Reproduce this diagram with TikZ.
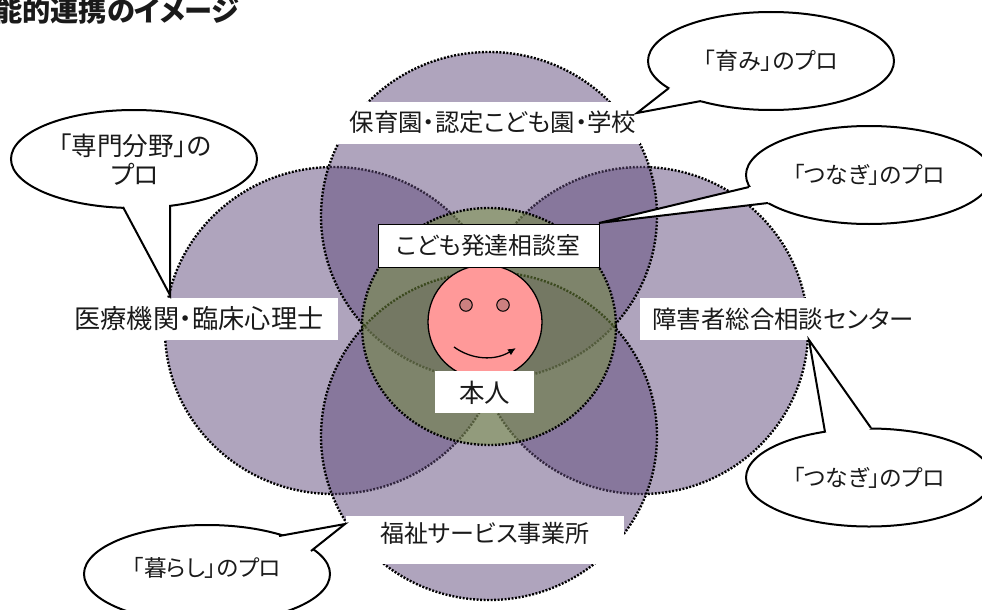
\documentclass[tikz,border=0pt]{standalone}
\usepackage{fontspec}
\setmainfont[RawFeature=+palt]{Noto Sans CJK JP}
\usetikzlibrary{shapes.geometric,arrows.meta,calc}
\definecolor{ringpurple}{HTML}{604A7B}
\definecolor{ringolive}{HTML}{76923C}
\definecolor{facepink}{HTML}{FF9999}
\definecolor{eyepink}{HTML}{CC8080}
\definecolor{inktext}{HTML}{1A1A1A}
\tikzset{
  ring/.style n args={2}{ellipse,inner sep=0pt,outer sep=0pt,minimum width=#1pt,minimum height=#2pt,
    fill=ringpurple,fill opacity=.5,draw=black,draw opacity=1,line width=2.4pt,dash pattern=on 1.9pt off 1.6pt},
  greenring/.style n args={2}{ring={#1}{#2},fill=ringolive},
  plate/.style n args={2}{inner sep=0pt,outer sep=0pt,minimum width=#1pt,minimum height=#2pt,fill=white},
  labeltext/.style={inner sep=0pt,font=\fontsize{#1pt}{29pt}\selectfont,text=inktext,align=center},
  labeltext/.default=24.4,
  calloutbody/.style={ellipse,inner sep=0pt,outer sep=0pt,minimum width=246pt,minimum height=98pt,fill=white,draw=black,line width=2pt},
  tailfill/.style={fill=white,draw=none},
  tailline/.style={draw=black,line width=2pt,line join=miter,fill=none},
}
\newcommand{\calloutshape}[5]{% name, center, base1, tip, base2
  \node[calloutbody] (#1) at #2 {};
  \coordinate (#1a) at #3; \coordinate (#1t) at #4; \coordinate (#1b) at #5;
  \fill[tailfill] (#1a) -- (#1t) -- (#1b) -- ($(#1a)!.5!(#1b)!.3!(#1)$) -- cycle;
  \draw[tailline] (#1a) -- (#1t) -- (#1b);
}
\begin{document}
\begin{tikzpicture}[x=1pt,y=-1pt]
\useasboundingbox (0,0) rectangle (982,610);
\clip (0,0) rectangle (982,610);
% title
\node[anchor=west,inner sep=0pt,font=\bfseries\fontsize{28.2pt}{30pt}\selectfont,text=inktext] (title) at (-6,10.5) {能的連携のイメージ};
% rings
\node[ring={337}{327}] (leftring) at (333.5,330.5) {};
\node[ring={333}{327}] (rightring) at (641.5,330.5) {};
\node[ring={336}{328}] (topring) at (489,216) {};
\node[ring={336}{328}] (bottomring) at (489,436) {};
\node[greenring={254}{237}] (centerring) at (489,326.5) {};
% plates
\node[plate={305}{42}] (topplate) at (487.5,123) {};
\node[labeltext] (toptext) at (493,122) {保育園・認定こども園・学校};
\node[plate={268}{42},anchor=east] (leftplate) at (338,319) {};
\node[labeltext=26.2] (lefttext) at (199,319) {医療機関・臨床心理士};
\node[plate={280}{42},anchor=west] (rightplate) at (640,319) {};
\node[labeltext] (righttext) at (783,319) {障害者総合相談センター};
\node[plate={278}{48}] (bottomplate) at (485,540) {};
\node[labeltext=24] (bottomtext) at (485,533) {福祉サービス事業所};
% face
\node[circle,inner sep=0pt,minimum size=114pt,fill=facepink,draw=black,line width=1.3pt] (face) at (485,322) {};
\node[circle,inner sep=0pt,minimum size=12.5pt,fill=eyepink,draw=black,line width=1pt] (lefteye) at (466,305) {};
\node[circle,inner sep=0pt,minimum size=12.5pt,fill=eyepink,draw=black,line width=1pt] (righteye) at (503,305) {};
\coordinate (smilea) at (454,347);
\coordinate (smileb) at (516,348);
\draw[line width=1.3pt,-{Latex[length=8pt,width=7pt]}] (smilea) .. controls (472,360) and (495,361) .. (smileb);
\node[plate={221}{43},draw=black,line width=1pt] (roomplate) at (488.5,245.5) {};
\node[labeltext=23.8] (roomtext) at (488,246) {こども発達相談室};
\node[plate={99}{42}] (selfplate) at (484.5,392) {};
\node[labeltext=25.5] (selftext) at (484.5,393) {本人};
% callouts
\calloutshape{cb}{(771,61)}{(669,88)}{(637,113)}{(701,101)}
\node[labeltext=23] (cbtext) at (771,61) {「育み」のプロ};
\calloutshape{cc}{(869,175)}{(749,187)}{(599,223)}{(768,203)}
\node[labeltext=22.7] (cctext) at (869,175) {「つなぎ」のプロ};
\calloutshape{cl}{(134,159)}{(123,207)}{(170,295)}{(170,205)}
\node[labeltext=25.6] (cltext) at (135,160) {「専門分野」の\\プロ};
\calloutshape{cr}{(869,477.5)}{(825,432)}{(809,340)}{(871,428)}
\node[labeltext=22.7] (crtext) at (869,478) {「つなぎ」のプロ};
\calloutshape{cd}{(207,574)}{(279,536)}{(345,524)}{(311,551)}
\node[labeltext=22.6] (cdtext) at (207,568) {「暮らし」のプロ};
\end{tikzpicture}
\end{document}
